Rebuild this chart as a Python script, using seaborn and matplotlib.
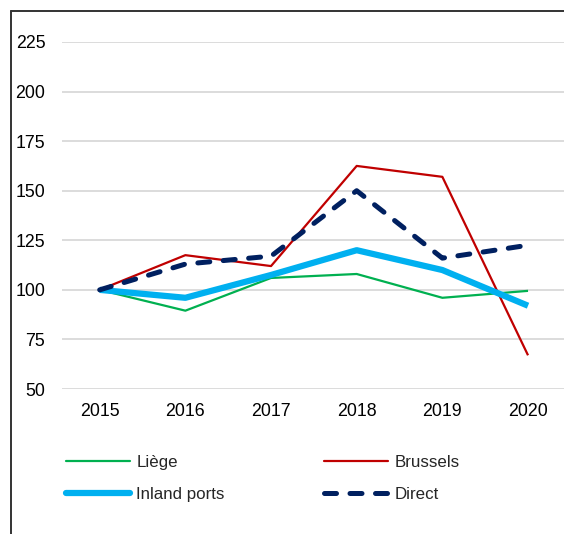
import seaborn as sns
import matplotlib.pyplot as plt
import pandas as pd
from matplotlib.lines import Line2D

# Index values (2015 = 100)
years = ["2015", "2016", "2017", "2018", "2019", "2020"]
liege = [100, 89.5, 106, 108, 96, 99.5]
brussels = [100, 117.5, 112, 162.5, 157, 67]
inland_ports = [100, 96, 107.5, 120, 110, 92]
direct = [100, 113, 117, 150, 116, 122.5]
y_ticks = [50, 75, 100, 125, 150, 175, 200, 225]

sns.set_theme(style="white")
plt.rcParams['font.family'] = ['Liberation Sans', 'DejaVu Sans']

fig = plt.figure(figsize=(5.64, 5.34), dpi=100)
ax = fig.add_axes([62 / 564, 1 - 389 / 534, 1 - 62 / 564, (389 - 42) / 534])

series = [
    ("Liège", liege, "#00B050", 1.6, "-"),
    ("Brussels", brussels, "#C00000", 1.6, "-"),
    ("Inland ports", inland_ports, "#00B0F0", 4.5, "-"),
    ("Direct", direct, "#002060", 3.6, (0, (2.4, 2.7))),
]

handles = {}
for name, vals, color, lw, ls in series:
    df = pd.DataFrame({"year": years, "value": vals})
    sns.lineplot(data=df, x="year", y="value", ax=ax, color=color,
                 linewidth=lw, linestyle=ls, solid_capstyle="butt",
                 dash_capstyle="round")
    handles[name] = Line2D([0], [0], color=color, linewidth=lw,
                           linestyle=ls, dash_capstyle="round")

ax.set_ylim(50, 225)
ax.set_xlim(-0.44, 5.42)
ax.set_yticks(y_ticks)
ax.set_xlabel("")
ax.set_ylabel("")
ax.grid(axis="y", color="#D9D9D9", linewidth=1.3)
ax.set_axisbelow(True)
for s in ax.spines.values():
    s.set_visible(False)
ax.tick_params(axis="both", length=0, labelsize=12.8, colors="#000000")
ax.tick_params(axis="y", pad=12)
ax.tick_params(axis="x", pad=10)

# legend in two columns: Liège / Brussels on top, Inland ports / Direct below
order = ["Liège", "Inland ports", "Brussels", "Direct"]
fig.legend([handles[n] for n in order], order, ncol=2, frameon=False,
           loc="upper left", bbox_to_anchor=(66 / 564, 1 - 455 / 534),
           borderpad=0, borderaxespad=0, handlelength=3.8, handletextpad=0.35,
           labelspacing=1.02, columnspacing=5.85, fontsize=12.2)

# outer frame: top and left edges only
fig.add_artist(Line2D([11 / 564, 1], [1 - 11 / 534] * 2, color="#333333",
                      linewidth=1.4, transform=fig.transFigure))
fig.add_artist(Line2D([11 / 564] * 2, [0, 1 - 11 / 534], color="#333333",
                      linewidth=1.4, transform=fig.transFigure))

fig.savefig("out.png", dpi=100)
